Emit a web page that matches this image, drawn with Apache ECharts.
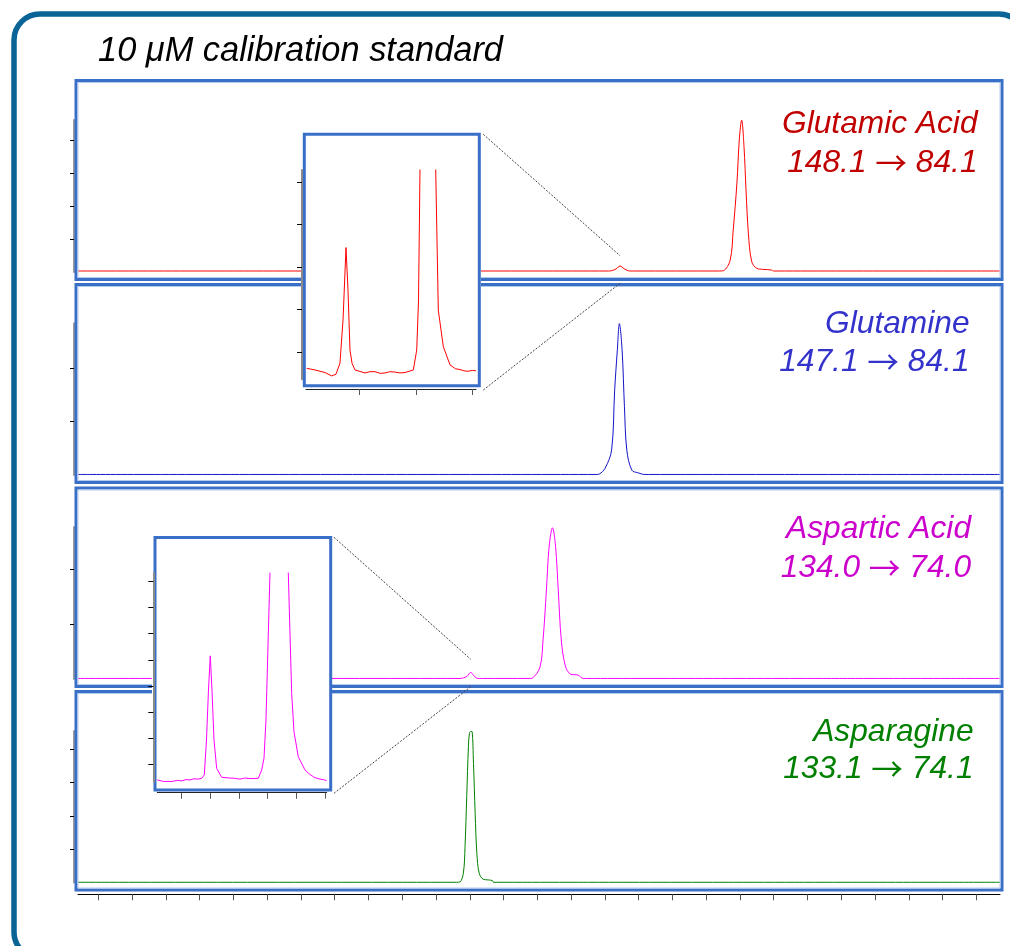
<!DOCTYPE html>
<html><head><meta charset="utf-8">
<script src="https://cdn.jsdelivr.net/npm/echarts@6/dist/echarts.min.js"></script>
<style>html,body{margin:0;padding:0;background:#fff}#c{width:1010px;height:946px}</style>
</head><body><div id="c"></div>
<script>
// ---------- DATA ----------
const titleText = '10 μM calibration standard';
const compoundNames = ['Glutamic Acid', 'Glutamine', 'Aspartic Acid', 'Asparagine'];
const precursorIons = ['148.1', '147.1', '134.0', '133.1'];
const productIons = ['84.1', '84.1', '74.0', '74.1'];
const timeTicks = [1,2,3,4,5,6,7,8,9,10,11,12,13,14,15,16,17,18,19,20,21,22,23,24,25,26,27];
const timeRange = [0.4, 27.7];

// panel intensities [time, intensity]
const glutamicAcid = [[0.4,0.03],[16.10,0.03],[16.20,0.04],[16.33,0.09],[16.45,0.18],[16.57,0.10],[16.66,0.05],[16.75,0.03],[16.85,0.03],
  [19.40,0.03],[19.51,0.04],[19.71,0.36],[19.80,1.27],[19.91,2.69],[19.98,4.0],[20.05,4.6],[20.12,3.80],[20.18,2.48],
  [20.25,1.17],[20.35,0.31],[20.50,0.11],[20.69,0.08],[20.94,0.06],[20.99,0.03],[21.10,0.03],[27.7,0.03]];
const glutamine = [[0.4,0.01],[15.74,0.01],[15.84,0.02],[16.01,0.13],[16.20,0.47],[16.29,1.59],[16.37,2.35],[16.43,2.84],
  [16.51,2.35],[16.58,1.28],[16.65,0.47],[16.80,0.09],[16.99,0.04],[17.19,0.01],[17.30,0.01],[27.7,0.01]];
const asparticAcid = [[0.4,0.01],[11.71,0.01],[11.81,0.02],[11.92,0.05],[12.03,0.12],[12.12,0.06],[12.20,0.02],[12.28,0.01],[12.38,0.01],
  [13.76,0.01],[13.86,0.02],[14.08,0.22],[14.17,0.71],[14.27,1.62],[14.35,2.41],[14.45,2.75],[14.54,2.41],[14.62,1.62],
  [14.71,0.71],[14.83,0.24],[14.98,0.09],[15.21,0.07],[15.36,0.01],[15.46,0.01],[27.7,0.01]];
const asparagine = [[0.4,0.01],[11.61,0.01],[11.71,0.02],[11.81,0.28],[11.86,1.08],[11.91,2.58],[11.96,4.08],[11.99,4.48],
  [12.03,4.54],[12.07,4.53],[12.11,3.58],[12.16,2.08],[12.21,0.88],[12.28,0.28],[12.40,0.10],[12.55,0.08],
  [12.67,0.06],[12.70,0.01],[12.80,0.01],[27.7,0.01]];
const panelMax = [4.606, 2.846, 2.764, 4.55];
const panelTicks = [[1,2,3,4],[1,2],[1,2],[1,2,3,4]];
const smallPeakTimes = [16.45, 12.03];

// insets (zoomed views)
const insetGluTicksX = [1,2,3];
const insetGluTicksY = [1,2,3,4,5];
const insetGluRangeX = [0.057, 3.065];
const insetGluRangeY = [0.35, 5.29];
const insetGlu = [[0.069,0.61],[0.216,0.57],[0.393,0.51],[0.511,0.43],[0.588,0.47],[0.658,0.73],[0.712,1.75],
  [0.765,3.46],[0.800,2.46],[0.835,1.04],[0.871,0.73],[0.924,0.57],[1.101,0.50],[1.190,0.53],[1.278,0.53],
  [1.370,0.49],[1.455,0.50],[1.540,0.53],[1.632,0.52],[1.720,0.50],[1.809,0.51],[1.956,0.57],[2.016,1.04],
  [2.048,2.22],[2.074,5.29],[2.215,60],[2.352,5.29],[2.398,1.98],[2.487,1.12],[2.605,0.69],[2.700,0.60],
  [2.782,0.58],[2.850,0.55],[2.924,0.54],[3.000,0.56],[3.065,0.55]];
const insetAspTicksX = [1,2,3,4,5,6];
const insetAspTicksY = [1,2,3,4,5,6,7,8];
const insetAspRangeX = [0.149, 6.06];
const insetAspRangeY = [0.32, 8.33];
const insetAsp = [[0.149,0.39],[0.358,0.33],[0.662,0.33],[0.850,0.37],[1.000,0.35],[1.150,0.40],[1.290,0.39],
  [1.430,0.43],[1.569,0.42],[1.698,0.45],[1.789,0.58],[1.865,1.92],[1.935,3.84],[1.998,5.15],[2.057,3.84],
  [2.127,1.92],[2.221,0.83],[2.396,0.49],[2.685,0.46],[2.850,0.45],[3.034,0.42],[3.200,0.46],[3.383,0.44],
  [3.673,0.45],[3.791,0.77],[3.872,1.22],[3.941,2.69],[4.081,8.36],[4.395,40],[4.719,8.36],[4.838,3.71],
  [4.918,2.24],[5.068,1.28],[5.302,0.77],[5.450,0.62],[5.592,0.51],[5.700,0.46],[5.826,0.42],[5.950,0.40],[6.059,0.36]];

// ---------- STYLE / LAYOUT ----------
const lineColors = ['#ff0000', '#1414c8', '#ff00ff', '#008000'];
const textColors = ['#c00000', '#3333cc', '#cc00cc', '#008000'];
const FONT = '"Liberation Sans", Arial, sans-serif';
const panelBoxes = [[76,80.5,926,199],[76,284.5,926,198],[76,488,926,198.5],[76,691.5,926,198.5]];
const grids = [
  {left:78, top:120, width:922, height:152},
  {left:78, top:323.3, width:922, height:151.7},
  {left:78, top:527, width:922, height:152},
  {left:78, top:731, width:922, height:151.6},
  {left:306, top:170, width:170, height:209.3},
  {left:157.3, top:573, width:169.4, height:208.7}
];
const labelPos = [[977.5,124,163],[969.5,324,361.7],[971,529,568.3],[973.5,731.7,769]];

const chart = echarts.init(document.getElementById('c'), null, {renderer:'canvas'});

const xAxes = [], yAxes = [], series = [];
const mainData = [glutamicAcid, glutamine, asparticAcid, asparagine];
for (let i = 0; i < 4; i++) {
  const bottom = i === 3;
  xAxes.push({
    type:'value', gridIndex:i, min:timeRange[0], max:timeRange[1], show:bottom,
    position:'bottom', offset:11.7,
    axisLine:{show:true, onZero:false, lineStyle:{color:'#000', width:1}},
    axisTick:{show:true, customValues:timeTicks, length:6, lineStyle:{color:'#555', width:1}},
    axisLabel:{show:false}, splitLine:{show:false}
  });
  yAxes.push({
    type:'value', gridIndex:i, min:0, max:panelMax[i], position:'left', offset:4,
    axisLine:{show:true, lineStyle:{color:'#9a9a9a', width:2}},
    axisTick:{show:true, customValues:panelTicks[i], length:4, lineStyle:{color:'#000', width:1}},
    axisLabel:{show:false}, splitLine:{show:false}
  });
  series.push({
    type:'line', xAxisIndex:i, yAxisIndex:i, data:mainData[i], showSymbol:false, symbol:'none',
    smooth:0.35, lineStyle:{color:lineColors[i], width:1}, z:2, animation:false, silent:true
  });
}
const insets = [
  {data:insetGlu, rx:insetGluRangeX, ry:insetGluRangeY, tx:insetGluTicksX, ty:insetGluTicksY, color:lineColors[0], off:9.7},
  {data:insetAsp, rx:insetAspRangeX, ry:insetAspRangeY, tx:insetAspTicksX, ty:insetAspTicksY, color:lineColors[2], off:11}
];
insets.forEach((s, k) => {
  const gi = 4 + k;
  xAxes.push({
    type:'value', gridIndex:gi, min:s.rx[0], max:s.rx[1], position:'bottom', offset:s.off, z:20,
    axisLine:{show:true, onZero:false, lineStyle:{color:'#222', width:1}},
    axisTick:{show:true, customValues:s.tx, length:6, lineStyle:{color:'#555', width:1}},
    axisLabel:{show:false}, splitLine:{show:false}
  });
  yAxes.push({
    type:'value', gridIndex:gi, min:s.ry[0], max:s.ry[1], position:'left', offset:4, z:20,
    axisLine:{show:true, onZero:false, lineStyle:{color:'#8a8a8a', width:2}},
    axisTick:{show:true, customValues:s.ty, length:5, lineStyle:{color:'#000', width:1}},
    axisLabel:{show:false}, splitLine:{show:false}
  });
  series.push({
    type:'line', xAxisIndex:gi, yAxisIndex:gi, data:s.data, showSymbol:false, symbol:'none',
    lineStyle:{color:s.color, width:1}, z:20, animation:false, silent:true
  });
});

const gfx = [];
gfx.push({type:'rect', id:'frame', z:1, shape:{x:14, y:14, width:1011, height:944, r:26},
  style:{fill:'none', stroke:'#0a6496', lineWidth:5.5}});
gfx.push({type:'text', id:'title', z:5, x:98, y:51.4,
  style:{text:titleText, font:'italic 34.4px ' + FONT, fill:'#000', align:'left', verticalAlign:'middle',
    textAlign:'left', textVerticalAlign:'middle'}});
panelBoxes.forEach((b, i) => {
  gfx.push({type:'rect', id:'panel'+i, z:5, shape:{x:b[0], y:b[1], width:b[2], height:b[3]},
    style:{fill:'none', stroke:'#3a6fc8', lineWidth:3}});
  gfx.push({type:'rect', id:'panelIn'+i, z:5, shape:{x:b[0]+2, y:b[1]+2, width:b[2]-4, height:b[3]-4},
    style:{fill:'none', stroke:'#b4c9ee', lineWidth:1}});
});
const labelFont = {fontStyle:'italic', fontSize:31.7, fontFamily:'"Liberation Sans", Arial, sans-serif'};
compoundNames.forEach((n, i) => {
  const p = labelPos[i];
  gfx.push({type:'text', id:'name'+i, z:6, x:p[0], y:p[1],
    style:{text:n, font:'italic 31.7px ' + FONT, fill:textColors[i], align:'right', verticalAlign:'middle',
      textAlign:'right', textVerticalAlign:'middle'}});
  gfx.push({type:'text', id:'trans'+i, z:6, x:p[0], y:p[2],
    style:{text:'{n|' + precursorIons[i] + ' }{a|→}{n| ' + productIons[i] + '}',
      align:'right', verticalAlign:'middle', textAlign:'right', textVerticalAlign:'middle',
      fill:textColors[i],
      rich:{
        n:Object.assign({fill:textColors[i], color:textColors[i]}, labelFont),
        a:{fill:textColors[i], color:textColors[i], fontSize:31.7, fontFamily:'"Noto Sans CJK SC", sans-serif'}
      }}});
});
// inset backgrounds and boxes
const insetBoxes = [[304.3,134.3,175,251.4],[155,537.5,175.7,252.5]];
const insetBg = [[302,133,179,254],[152,536,180,256]];
insetBoxes.forEach((b, k) => {
  const g = insetBg[k];
  gfx.push({type:'rect', id:'insetBg'+k, z:10, shape:{x:g[0], y:g[1], width:g[2], height:g[3]},
    style:{fill:'#fff', stroke:'none'}});
  gfx.push({type:'rect', id:'insetBox'+k, z:11, shape:{x:b[0], y:b[1], width:b[2], height:b[3]},
    style:{fill:'none', stroke:'#3a6fc8', lineWidth:3}});
});

chart.setOption({
  animation:false,
  backgroundColor:'#fff',
  grid: grids.map(g => Object.assign({outerBoundsMode:'none', containLabel:false, show:false}, g)),
  xAxis:xAxes, yAxis:yAxes, series:series,
  graphic:{elements:gfx}
});

// connectors from inset corners to the small peaks (peak x from data via axis scale)
const px0 = chart.convertToPixel({xAxisIndex:0}, smallPeakTimes[0]);
const px1 = chart.convertToPixel({xAxisIndex:2}, smallPeakTimes[1]);
const dotted = {stroke:'#444', lineWidth:1, lineDash:[2,1.5]};
chart.setOption({graphic:{elements:[
  {type:'line', id:'c0a', z:12, shape:{x1:483.3, y1:134.3, x2:px0, y2:255.7}, style:dotted},
  {type:'line', id:'c0b', z:12, shape:{x1:483.3, y1:390, x2:px0, y2:283.3}, style:dotted},
  {type:'line', id:'c1a', z:12, shape:{x1:334, y1:537.3, x2:px1, y2:659.3}, style:dotted},
  {type:'line', id:'c1b', z:12, shape:{x1:334, y1:793.3, x2:px1, y2:686.7}, style:dotted}
]}});
</script></body></html>
